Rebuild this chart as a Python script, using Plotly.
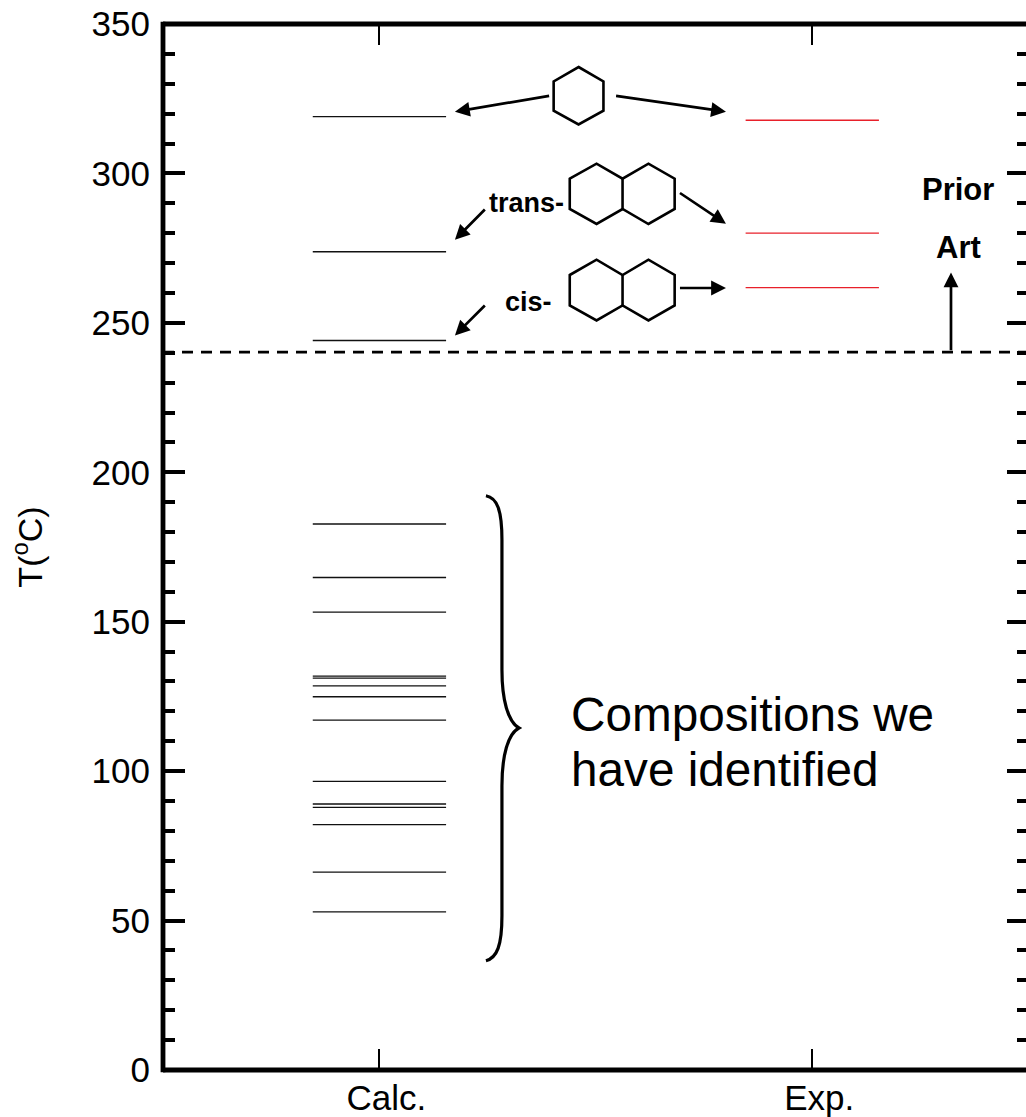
import plotly.graph_objects as go

# ---- data ----
categories = ["Calc.", "Exp."]
category_pos = [1, 2]
calc_high = [319.0, 273.8, 244.1]
exp_high = [317.8, 280.0, 261.8]
calc_identified = [182.7, 164.8, 153.2, 131.8, 131.1, 128.5, 124.9, 117.1,
                   96.6, 89.0, 87.9, 82.1, 66.2, 52.9]
prior_art_limit = 240.2
y_ticks = [0, 50, 100, 150, 200, 250, 300, 350]

# ---- geometry (page pixels) ----
W, H = 1026, 1117
L, T, B = 162.9, 24.3, 1070.3
PX_PER_CAT = 432.8
X0 = 379.5
HALF = 0.154
FONT = "Liberation Sans, Arial, sans-serif"


def dx(px):
    return 1 + (px - X0) / PX_PER_CAT


def dy(py):
    return (B - py) * 350 / (B - T)


def segs(center, values):
    xs, ys = [], []
    for v in values:
        xs += [center - HALF, center + HALF, None]
        ys += [v, v, None]
    return xs, ys


fig = go.Figure()
xs, ys = segs(category_pos[0], calc_high + calc_identified)
fig.add_trace(go.Scatter(x=xs, y=ys, mode="lines", line=dict(color="#111111", width=1.3), showlegend=False, hoverinfo="skip"))
xs, ys = segs(category_pos[1], exp_high)
fig.add_trace(go.Scatter(x=xs, y=ys, mode="lines", line=dict(color="#e8202a", width=1.3), showlegend=False, hoverinfo="skip"))
fig.add_trace(go.Scatter(x=[0.5, 2.6], y=[prior_art_limit] * 2, mode="lines",
                         line=dict(color="black", width=2.6, dash="11px,8px"), showlegend=False, hoverinfo="skip"))
fig.add_trace(go.Scatter(x=[1], y=[None], yaxis="y2", mode="lines", showlegend=False, hoverinfo="skip"))

shapes = []


def path_shape(points, close=False, width=2.6):
    d = "M " + " L ".join(f"{dx(a):.5f},{dy(b):.4f}" for a, b in points)
    if close:
        d += " Z"
    shapes.append(dict(type="path", xref="x", yref="y", path=d, line=dict(color="black", width=width), layer="above"))


# cyclohexane
path_shape([(578.6, 67.3), (603.5, 81.7), (603.5, 111), (578.6, 124.7), (553.7, 111), (553.7, 81.7)], True)


def decalin(top, sh, lo, bot):
    path_shape([(569.8, sh), (596.6, top), (622.6, sh), (648.5, top), (674.7, sh), (674.7, lo), (648.5, bot), (622.6, lo),
                (596.6, bot), (569.8, lo)], True)
    path_shape([(622.6, sh), (622.6, lo)])


decalin(164, 179, 209.3, 224.3)
decalin(260, 275.3, 305.7, 320.7)

# brace
d = (f"M {dx(486):.5f},{dy(496):.4f} C {dx(497):.5f},{dy(498):.4f} {dx(502):.5f},{dy(510):.4f} {dx(502):.5f},{dy(540):.4f} "
     f"L {dx(502):.5f},{dy(670):.4f} C {dx(502):.5f},{dy(700):.4f} {dx(508):.5f},{dy(722):.4f} {dx(519):.5f},{dy(728.3):.4f} "
     f"C {dx(508):.5f},{dy(734):.4f} {dx(502):.5f},{dy(756):.4f} {dx(502):.5f},{dy(786):.4f} "
     f"L {dx(502):.5f},{dy(916):.4f} C {dx(502):.5f},{dy(946):.4f} {dx(497):.5f},{dy(958):.4f} {dx(486):.5f},{dy(961):.4f}")
shapes.append(dict(type="path", xref="x", yref="y", path=d, line=dict(color="black", width=3.2), layer="above"))

# frame (left, top, bottom) drawn centred on the plot-area edges
for x0, y0, x1, y1 in [(0, -0.0022, 0, 1.0022), (0, 1, 1, 1), (0, 0, 1, 0)]:
    shapes.append(dict(type="line", xref="paper", yref="paper", x0=x0, y0=y0, x1=x1, y1=y1,
                       line=dict(color="black", width=4.8), layer="above"))

annotations = []


def arrow(x0, y0, x1, y1):
    annotations.append(dict(x=dx(x1), y=dy(y1), xref="x", yref="y", ax=x0 - x1, ay=y0 - y1, axref="pixel", ayref="pixel",
                            text="", showarrow=True, arrowhead=2, arrowsize=1.1, arrowwidth=2.7, arrowcolor="black",
                            standoff=0, startstandoff=0))


arrow(550.7, 96, 455, 112)
arrow(614.6, 96, 726, 112)
arrow(678.5, 192.3, 726, 224)
arrow(486.4, 208.3, 455, 240)
arrow(486.4, 304.3, 455, 335.7)
arrow(678.5, 288.3, 726, 288.3)
arrow(951, 352, 951, 272.7)


def label(text, px, py, size, bold=False, anchor="center"):
    annotations.append(dict(x=dx(px), y=dy(py), xref="x", yref="y", text=f"<b>{text}</b>" if bold else text,
                            showarrow=False, xanchor=anchor, yanchor="middle",
                            font=dict(family=FONT, size=size, color="black")))


label("trans-", 527, 203, 27, True)
label("cis-", 529, 302, 27, True)
label("Prior", 958.5, 190, 31, True)
label("Art", 958.5, 248, 31, True)
label("Compositions we", 569, 715, 47.7, anchor="left")
label("have identified", 569, 770, 47.7, anchor="left")

tickfont = dict(family=FONT, size=35, color="black")
fig.update_layout(
    width=W, height=H, autosize=False,
    margin=dict(l=L, r=0, t=T, b=H - B, pad=0, autoexpand=False),
    paper_bgcolor="white", plot_bgcolor="white", showlegend=False,
    shapes=shapes, annotations=annotations,
    xaxis=dict(range=[0.5, 1 + (W - X0) / PX_PER_CAT], tickmode="array", tickvals=category_pos, ticktext=categories,
               ticks="inside", ticklen=21, tickwidth=2, tickcolor="black", mirror="ticks", showgrid=False, zeroline=False,
               showline=False, tickfont=tickfont, ticklabelshift=7, ticklabelstandoff=4, automargin=False),
    yaxis=dict(range=[0, 350], tickmode="array", tickvals=y_ticks, ticks="inside", ticklen=22, tickwidth=4,
               tickcolor="black", showgrid=False, zeroline=False, showline=False, tickfont=tickfont,
               ticklabelstandoff=12, ticklabeloverflow="allow", automargin=False,
               minor=dict(dtick=10, tick0=0, ticks="inside", ticklen=12, tickwidth=3.5, tickcolor="black", showgrid=False),
               title=dict(text="T(<sup>o</sup>C)", font=dict(family=FONT, size=34, color="black"), standoff=38)),
    yaxis2=dict(range=[0, 350], overlaying="y", side="right", anchor="x", tickmode="array", tickvals=y_ticks,
                ticks="inside", ticklen=19, tickwidth=4, tickcolor="black", showticklabels=False, showgrid=False,
                zeroline=False, showline=False,
                minor=dict(dtick=10, tick0=0, ticks="inside", ticklen=9, tickwidth=3.5, tickcolor="black", showgrid=False)),
)

fig.write_html("out.html", config={"displayModeBar": False},
               post_script="document.body.style.margin='0';")
